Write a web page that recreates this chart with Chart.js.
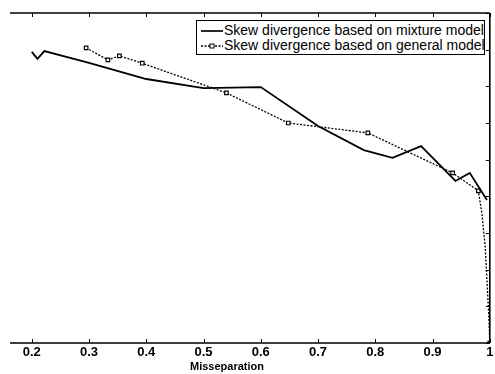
<!DOCTYPE html>
<html>
<head>
<meta charset="utf-8">
<script src="https://cdn.jsdelivr.net/npm/chart.js@4.4.1/dist/chart.umd.min.js"></script>
<style>
  html, body { margin: 0; padding: 0; background: #fff; }
  #wrap { position: relative; width: 495px; height: 374px; font-family: "Liberation Sans", Arial, sans-serif; color: #000; }
  #chart { position: absolute; left: 0; top: 0; }
  #legend {
    position: absolute; left: 196px; top: 20px; width: 287px; height: 33px;
    border: 1px solid #000; background: #fff; font-size: 14px;
  }
  .row { position: absolute; left: 3px; height: 15px; line-height: 15px; white-space: nowrap; }
  .row svg { position: absolute; left: 0; top: 0; }
  .row span { position: absolute; left: 24px; top: 0; }
  #xtitle { position: absolute; left: 190px; top: 359px; font-size: 11px; line-height: 14px; font-weight: bold; }
</style>
</head>
<body>
<div id="wrap">
  <canvas id="chart" width="495" height="374"></canvas>
  <div id="legend">
    <div class="row" style="top:2px">
      <svg width="24" height="15"><line x1="1" y1="8" x2="23" y2="8" stroke="#000" stroke-width="1.7"/></svg>
      <span>Skew divergence based on mixture model</span>
    </div>
    <div class="row" style="top:17px">
      <svg width="24" height="15"><line x1="1" y1="8" x2="23" y2="8" stroke="#000" stroke-width="1.3" stroke-dasharray="2,1.5"/><rect x="10" y="6" width="4" height="4" fill="#fff" stroke="#000" stroke-width="1"/></svg>
      <span>Skew divergence based on general model</span>
    </div>
  </div>
  <div id="xtitle">Misseparation</div>
</div>
<script>
const xTicks = [0.2, 0.3, 0.4, 0.5, 0.6, 0.7, 0.8, 0.9, 1.0];
const xTickLabels = ['0.2', '0.3', '0.4', '0.5', '0.6', '0.7', '0.8', '0.9', '1'];
const yTicks = [0, 1, 2, 3, 4, 5, 6, 7, 8, 9];

const mixtureX = [0.2, 0.21, 0.222, 0.3, 0.4, 0.5, 0.6, 0.7, 0.78, 0.83, 0.88, 0.94, 0.965, 0.995];
const mixtureY = [7.94, 7.75, 7.96, 7.64, 7.2, 6.95, 6.98, 5.92, 5.26, 5.05, 5.37, 4.42, 4.64, 3.9];

const generalX = [0.295, 0.333, 0.353, 0.393, 0.54, 0.648, 0.787, 0.935, 0.98, 0.986, 0.992, 0.995, 0.998, 1.0];
const generalY = [8.05, 7.72, 7.83, 7.63, 6.82, 6.0, 5.73, 4.64, 4.15, 3.55, 2.62, 1.72, 0.82, 0.0];

const toPoints = (xs, ys) => xs.map((x, i) => ({ x, y: ys[i] }));

// frame on top, bottom and right with inward ticks (left side is cut off in the original)
const framePlugin = {
  id: 'frame',
  afterDraw(chart) {
    const { ctx, chartArea: a, scales: { x, y } } = chart;
    ctx.save();
    ctx.strokeStyle = '#000';
    ctx.lineWidth = 1.6;
    ctx.beginPath();
    ctx.moveTo(a.left, a.top); ctx.lineTo(a.right, a.top);
    ctx.moveTo(a.left, a.bottom); ctx.lineTo(a.right, a.bottom);
    ctx.moveTo(a.right, a.top); ctx.lineTo(a.right, a.bottom);
    ctx.stroke();
    ctx.lineWidth = 1;
    ctx.beginPath();
    xTicks.forEach(v => {
      const px = Math.round(x.getPixelForValue(v)) + 0.5;
      ctx.moveTo(px, a.bottom); ctx.lineTo(px, a.bottom - 4);
      ctx.moveTo(px, a.top); ctx.lineTo(px, a.top + 4);
    });
    yTicks.forEach(v => {
      const py = Math.round(y.getPixelForValue(v)) + 0.5;
      ctx.moveTo(a.right, py); ctx.lineTo(a.right - 4, py);
    });
    ctx.stroke();
    ctx.restore();
  }
};

new Chart(document.getElementById('chart'), {
  type: 'scatter',
  data: {
    datasets: [
      {
        label: 'Skew divergence based on mixture model',
        data: toPoints(mixtureX, mixtureY),
        showLine: true,
        borderColor: '#000',
        borderWidth: 1.8,
        pointRadius: 0,
        tension: 0
      },
      {
        label: 'Skew divergence based on general model',
        data: toPoints(generalX, generalY),
        showLine: true,
        borderColor: '#000',
        borderWidth: 1.3,
        borderDash: [2, 1.5],
        pointStyle: 'rect',
        pointRadius: (c) => (c.raw && c.raw.x > 0.982 && c.raw.x < 1) ? 0 : 2.5,
        pointBackgroundColor: '#fff',
        pointBorderColor: '#000',
        pointBorderWidth: 1.2,
        tension: 0
      }
    ]
  },
  options: {
    responsive: false,
    animation: false,
    events: [],
    layout: { padding: { left: 10, right: 2, top: 13, bottom: 0 } },
    plugins: { legend: { display: false }, tooltip: { enabled: false } },
    scales: {
      x: {
        type: 'linear',
        min: 0.162,
        max: 1.0,
        afterBuildTicks: (s) => { s.ticks = xTicks.map(v => ({ value: v })); },
        afterFit: (s) => { s.height = 31; s.paddingLeft = 0; s.paddingRight = 0; },
        ticks: {
          callback: (v) => xTickLabels[xTicks.findIndex(t => Math.abs(t - v) < 1e-6)],
          color: '#000',
          font: { family: '"Liberation Sans", Arial, sans-serif', size: 13, weight: 'bold' },
          padding: 2,
          maxRotation: 0,
          autoSkip: false
        },
        grid: { display: false, drawTicks: false },
        border: { display: false }
      },
      y: {
        display: false,
        min: 0,
        max: 9
      }
    }
  },
  plugins: [framePlugin]
});
</script>
</body>
</html>
